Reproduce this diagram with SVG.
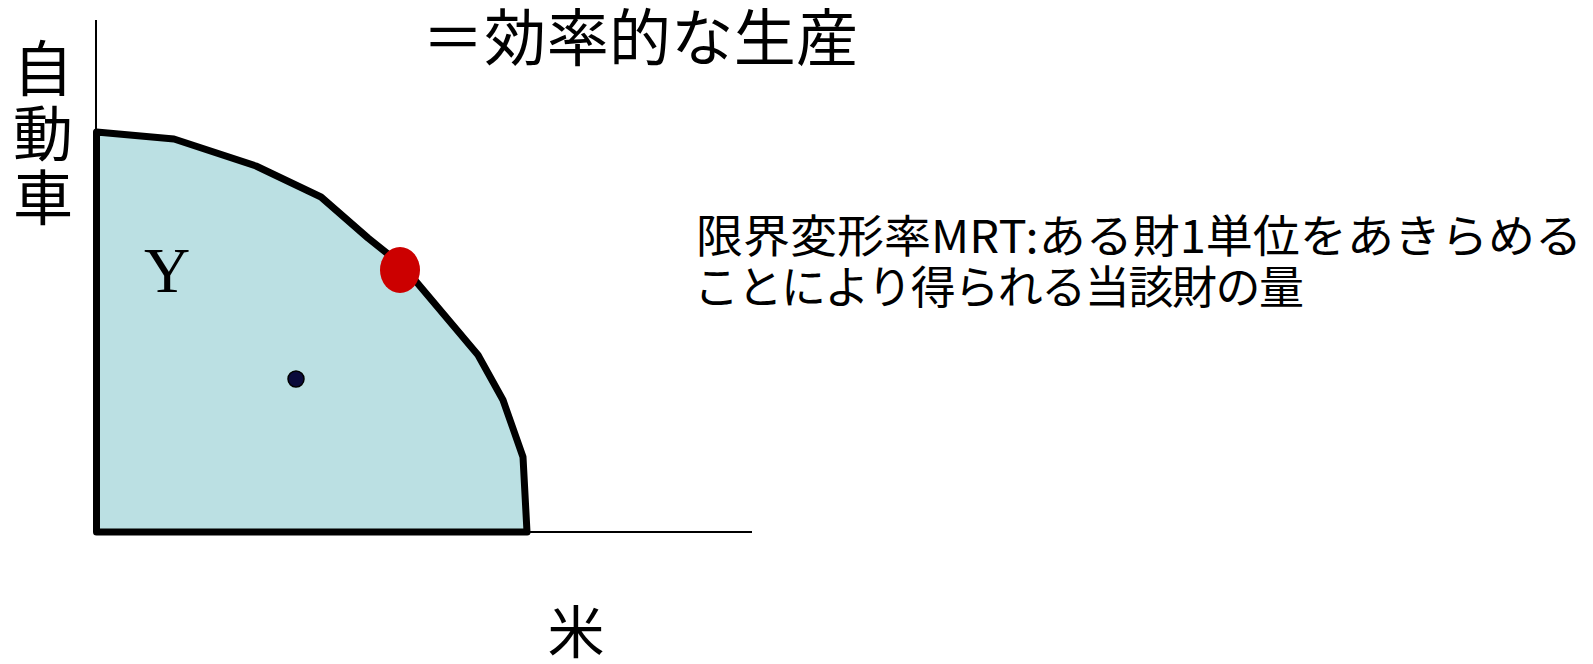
<svg xmlns="http://www.w3.org/2000/svg" width="1593" height="664" viewBox="0 0 1593 664">
<style>
.jp{font-family:"Noto Sans CJK JP","Noto Sans CJK SC",sans-serif;fill:#000}
.axis{stroke:#000;stroke-width:2;fill:none}
.frontier{fill:#BBE0E3;stroke:#000;stroke-width:7;stroke-linejoin:round}
</style>
<rect width="1593" height="664" fill="#fff"/>
<g id="connectors">
<line class="axis" x1="96" y1="20" x2="96" y2="132"/>
<line class="axis" x1="527" y1="532" x2="752" y2="532"/>
</g>
<g id="frontier">
<polygon class="frontier" points="96.5,132 174,139 256,166 321,197 368,238 403,266 478,355 503,400 523,457 527,532 96.5,532"/>
</g>
<g id="point-efficient">
<ellipse cx="400" cy="270" rx="20" ry="23" fill="#CC0000"/>
</g>
<g id="point-inefficient">
<circle cx="296" cy="379" r="8" fill="#0A0A3A" stroke="#000" stroke-width="1.5"/>
</g>
<g id="label-Y">
<text x="167" y="292" font-family="Liberation Serif, serif" font-size="64" text-anchor="middle">Y</text>
</g>
<g id="label-yaxis">
<text class="jp" font-size="60" text-anchor="middle"><tspan x="43" y="91">自</tspan><tspan x="43" y="156">動</tspan><tspan x="43" y="220">車</tspan></text>
</g>
<g id="label-xaxis">
<text class="jp" x="576" y="653" font-size="57" text-anchor="middle">米</text>
</g>
<g id="title">
<text class="jp" x="422" y="61" font-size="62" textLength="436">＝効率的な生産</text>
</g>
<g id="definition">
<text class="jp" x="696" y="253" font-size="45" textLength="886" lengthAdjust="spacingAndGlyphs">限界変形率MRT:ある財1単位をあきらめる</text>
<text class="jp" x="694" y="304" font-size="45" textLength="610">ことにより得られる当該財の量</text>
</g>
</svg>
